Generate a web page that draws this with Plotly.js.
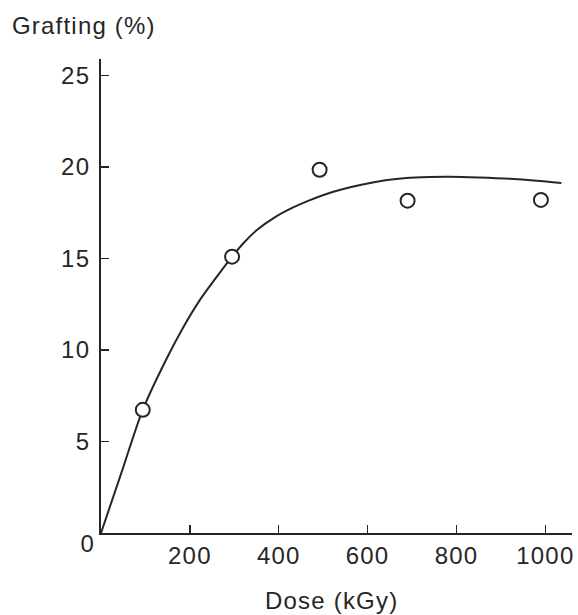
<!DOCTYPE html>
<html>
<head>
<meta charset="utf-8">
<script src="https://cdn.plot.ly/plotly-3.0.1.min.js"></script>
<style>
  html, body { margin: 0; padding: 0; background: #fff; }
  #chart { width: 578px; height: 615px; }
  #chart text { letter-spacing: 1.2px; }
</style>
</head>
<body>
<div id="chart"></div>
<script>
// Measured data points (open circles)
const doseMeasured = [94, 295, 492, 690, 990];
const graftingMeasured = [6.73, 15.1, 19.85, 18.16, 18.2];

// Fitted curve
const doseCurve = [0, 47, 94, 147, 184, 222, 260, 295, 323, 353, 391, 429, 466, 504, 541, 586, 640, 687, 740, 785, 850, 920, 980, 1036];
const graftingCurve = [0, 3.37, 6.73, 9.49, 11.19, 12.71, 13.98, 15.1, 15.9, 16.6, 17.25, 17.75, 18.15, 18.5, 18.77, 19.03, 19.27, 19.40, 19.45, 19.46, 19.42, 19.35, 19.25, 19.13];

// Tick labels
const xTicks = [200, 400, 600, 800, 1000];
const yTicks = [5, 10, 15, 20, 25];

const ink = '#262626';
const fontFam = '"Liberation Sans", Arial, Helvetica, sans-serif';
const fs = 24;

const traces = [
  {
    x: doseCurve, y: graftingCurve,
    type: 'scatter', mode: 'lines',
    line: { color: ink, width: 2, shape: 'spline', smoothing: 0.8 },
    hoverinfo: 'skip', showlegend: false
  },
  {
    x: doseMeasured, y: graftingMeasured,
    type: 'scatter', mode: 'markers',
    marker: { symbol: 'circle', size: 14, color: '#ffffff', line: { color: ink, width: 2 } },
    showlegend: false
  }
];

const layout = {
  width: 578, height: 615,
  margin: { l: 101, r: 6, t: 59, b: 82 },
  paper_bgcolor: '#ffffff', plot_bgcolor: '#ffffff',
  font: { family: fontFam, size: fs, color: ink },
  title: {
    text: 'Grafting (%)',
    x: 12 / 578, xanchor: 'left', xref: 'container',
    y: 1 - 26 / 615, yanchor: 'middle', yref: 'container',
    font: { family: fontFam, size: fs, color: ink }
  },
  xaxis: {
    range: [0, 1060],
    tickmode: 'array', tickvals: xTicks, ticktext: xTicks.map(String),
    ticks: 'inside', ticklen: 8, tickwidth: 1.5, tickcolor: ink,
    showline: true, linecolor: ink, linewidth: 2,
    showgrid: false, zeroline: false,
    ticklabelstandoff: 0,
    tickfont: { family: fontFam, size: fs, color: ink }
  },
  yaxis: {
    range: [0, 25.9],
    tickmode: 'array', tickvals: yTicks, ticktext: yTicks.map(String),
    ticks: 'inside', ticklen: 8, tickwidth: 1.5, tickcolor: ink,
    showline: true, linecolor: ink, linewidth: 2,
    showgrid: false, zeroline: false,
    ticklabelstandoff: 4,
    tickfont: { family: fontFam, size: fs, color: ink }
  },
  annotations: [
    {
      text: 'Dose (kGy)', xref: 'paper', yref: 'paper',
      x: (331 - 101) / 471, y: (533 - 600) / 474,
      xanchor: 'center', yanchor: 'middle', showarrow: false,
      font: { family: fontFam, size: fs, color: ink }
    },
    {
      text: '0', xref: 'paper', yref: 'paper',
      x: (87 - 101) / 471, y: (533 - 543) / 474,
      xanchor: 'center', yanchor: 'middle', showarrow: false,
      font: { family: fontFam, size: fs, color: ink }
    }
  ]
};

Plotly.newPlot('chart', traces, layout, { displayModeBar: false, staticPlot: true });
</script>
</body>
</html>
